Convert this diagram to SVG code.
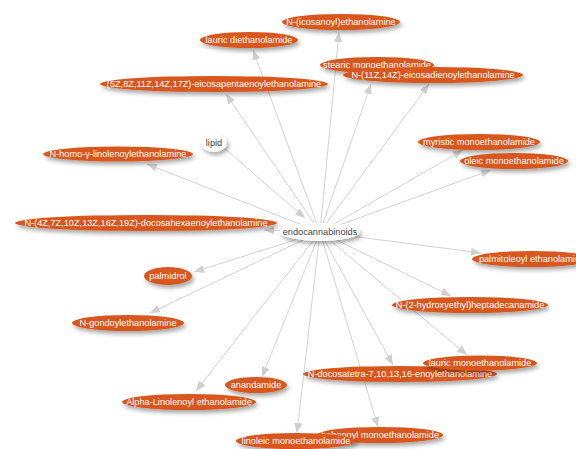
<svg xmlns="http://www.w3.org/2000/svg" width="576" height="449" viewBox="0 0 576 449">
<defs>
<filter id="sh" x="-20%" y="-60%" width="140%" height="240%">
<feDropShadow dx="2" dy="3" stdDeviation="2" flood-color="#000" flood-opacity="0.35"/>
</filter>
<marker id="arr" markerUnits="userSpaceOnUse" markerWidth="10" markerHeight="8" refX="10" refY="4" orient="auto">
<path d="M0,0 L10,4 L0,8 z" fill="#cfcfcf"/>
</marker>
<style>
.n ellipse{fill:#d9561c;filter:url(#sh)}
.n text{fill:#fff;font-family:"Liberation Sans",Arial,sans-serif;font-size:9.2px;text-anchor:middle}
.w ellipse{fill:#fff;filter:url(#sh)}
.w text{fill:#444;font-family:"Liberation Sans",Arial,sans-serif;font-size:9.2px;text-anchor:middle}
#edges line{stroke:#d3d3d3;stroke-width:1;marker-end:url(#arr)}
</style>
</defs>
<rect width="576" height="449" fill="#fff"/>
<g id="edges">
<line x1="224" y1="148" x2="305" y2="218"/>
<line x1="320" y1="232" x2="339" y2="32"/>
<line x1="320" y1="232" x2="253" y2="50"/>
<line x1="320" y1="232" x2="226" y2="94"/>
<line x1="320" y1="232" x2="371" y2="84"/>
<line x1="320" y1="232" x2="429" y2="84"/>
<line x1="320" y1="232" x2="147" y2="164"/>
<line x1="320" y1="232" x2="264" y2="230"/>
<line x1="320" y1="232" x2="463" y2="150"/>
<line x1="320" y1="232" x2="491" y2="170"/>
<line x1="320" y1="232" x2="481" y2="253"/>
<line x1="320" y1="232" x2="194" y2="272"/>
<line x1="320" y1="232" x2="150" y2="313"/>
<line x1="320" y1="232" x2="451" y2="296"/>
<line x1="320" y1="232" x2="467" y2="355"/>
<line x1="320" y1="232" x2="393" y2="365"/>
<line x1="320" y1="232" x2="262" y2="377"/>
<line x1="320" y1="232" x2="196" y2="391"/>
<line x1="320" y1="232" x2="297" y2="433"/>
<line x1="320" y1="232" x2="378" y2="427"/>
</g>
<g id="n-icosanoyl" class="n"><ellipse cx="341" cy="22" rx="59" ry="8"/><text x="341" y="25">N-(icosanoyl)ethanolamine</text></g>
<g id="n-lauric-di" class="n"><ellipse cx="249" cy="40" rx="49" ry="8"/><text x="249" y="43">lauric diethanolamide</text></g>
<g id="n-epea" class="n"><ellipse cx="214" cy="84" rx="114" ry="8"/><text x="214" y="87">(5Z,8Z,11Z,14Z,17Z)-eicosapentaenoylethanolamine</text></g>
<g id="n-stearic" class="n"><ellipse cx="377" cy="65" rx="57" ry="8"/><text x="377" y="68">stearic monoethanolamide</text></g>
<g id="n-eicosadienoyl" class="n"><ellipse cx="433" cy="75" rx="90" ry="8"/><text x="433" y="78">N-(11Z,14Z)-eicosadienoylethanolamine</text></g>
<g id="lipid" class="w"><ellipse cx="214" cy="143" rx="13" ry="9"/><text x="214" y="146">lipid</text></g>
<g id="n-homo" class="n"><ellipse cx="118" cy="154" rx="75" ry="7.5"/><text x="118" y="157">N-homo-γ-linolenoylethanolamine</text></g>
<g id="n-dha" class="n"><ellipse cx="146" cy="223" rx="131" ry="8"/><text x="146" y="226">N-(4Z,7Z,10Z,13Z,16Z,19Z)-docosahexaenoylethanolamine</text></g>
<g id="n-myristic" class="n"><ellipse cx="479" cy="142" rx="61" ry="8"/><text x="479" y="145">myristic monoethanolamide</text></g>
<g id="n-oleic" class="n"><ellipse cx="514" cy="161" rx="54" ry="8"/><text x="514" y="164">oleic monoethanolamide</text></g>
<g id="endocannabinoids" class="w"><ellipse cx="320" cy="232" rx="40" ry="9"/><text x="320" y="235">endocannabinoids</text></g>
<g id="n-palmitoleoyl" class="n"><ellipse cx="532" cy="259" rx="60" ry="8"/><text x="532" y="262">palmitoleoyl ethanolamide</text></g>
<g id="n-palmidrol" class="n"><ellipse cx="168" cy="276" rx="24" ry="9"/><text x="168" y="279">palmidrol</text></g>
<g id="n-gondoyl" class="n"><ellipse cx="128" cy="323" rx="56" ry="8"/><text x="128" y="326">N-gondoylethanolamine</text></g>
<g id="n-hydroxyethyl" class="n"><ellipse cx="470" cy="305" rx="78" ry="8"/><text x="470" y="308">N-(2-hydroxyethyl)heptadecanamide</text></g>
<g id="n-docosatetra" class="n"><ellipse cx="400" cy="374" rx="97" ry="8"/><text x="400" y="377">N-docosatetra-7,10,13,16-enoylethanolamine</text></g>
<g id="n-lauric-mono" class="n"><ellipse cx="480" cy="363" rx="57" ry="7.5"/><text x="480" y="366">lauric monoethanolamide</text></g>
<g id="n-anandamide" class="n"><ellipse cx="256" cy="385" rx="31" ry="8"/><text x="256" y="388">anandamide</text></g>
<g id="n-alpha" class="n"><ellipse cx="189" cy="402" rx="67" ry="8"/><text x="189" y="405">Alpha-Linolenoyl ethanolamide</text></g>
<g id="n-behenoyl" class="n"><ellipse cx="380" cy="435" rx="63" ry="8"/><text x="380" y="438">behenoyl monoethanolamide</text></g>
<g id="n-linoleic" class="n"><ellipse cx="296" cy="441" rx="60" ry="8"/><text x="296" y="444">linoleic monoethanolamide</text></g>
</svg>
